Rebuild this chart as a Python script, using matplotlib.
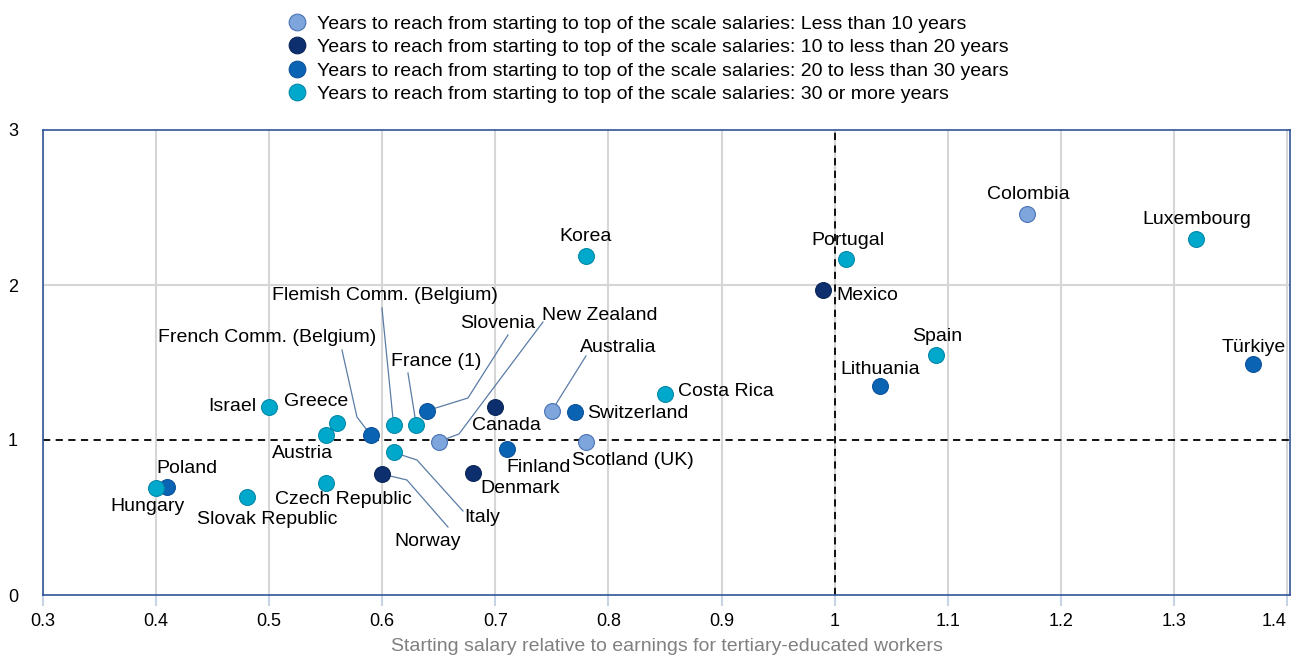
import matplotlib
matplotlib.use("Agg")
import matplotlib.pyplot as plt
from matplotlib.lines import Line2D

plt.rcParams['font.family'] = ['Liberation Sans', 'DejaVu Sans']

# ---- data ----
countries = ["Colombia", "Luxembourg", "Portugal", "Mexico", "Korea", "Spain",
             "Lithuania", "Türkiye", "Costa Rica", "Switzerland", "Australia",
             "Scotland (UK)", "Canada", "Finland", "Denmark", "New Zealand",
             "Slovenia", "France (1)", "Flemish Comm. (Belgium)",
             "French Comm. (Belgium)", "Italy", "Norway", "Greece", "Austria",
             "Israel", "Czech Republic", "Slovak Republic", "Poland", "Hungary"]
start_rel = [1.17, 1.32, 1.01, 0.99, 0.78, 1.09,
             1.04, 1.37, 0.85, 0.77, 0.75,
             0.78, 0.70, 0.71, 0.68, 0.65,
             0.64, 0.63, 0.61,
             0.59, 0.61, 0.60, 0.56, 0.55,
             0.50, 0.55, 0.48, 0.41, 0.40]
top_ratio = [2.46, 2.30, 2.17, 1.97, 2.19, 1.55,
             1.35, 1.49, 1.30, 1.18, 1.19,
             0.99, 1.21, 0.94, 0.79, 0.99,
             1.19, 1.10, 1.10,
             1.03, 0.92, 0.78, 1.11, 1.03,
             1.21, 0.72, 0.63, 0.70, 0.69]
# group: 0 <10, 1 10-20, 2 20-30, 3 30+
group = [0, 3, 3, 1, 3, 3,
         2, 2, 3, 2, 0,
         0, 1, 2, 1, 0,
         2, 3, 3,
         2, 3, 1, 3, 3,
         3, 3, 3, 2, 3]
group_labels = [
    "Years to reach from starting to top of the scale salaries: Less than 10 years",
    "Years to reach from starting to top of the scale salaries: 10 to less than 20 years",
    "Years to reach from starting to top of the scale salaries: 20 to less than 30 years",
    "Years to reach from starting to top of the scale salaries: 30 or more years",
]
x_ticks = [0.3, 0.4, 0.5, 0.6, 0.7, 0.8, 0.9, 1.0, 1.1, 1.2, 1.3, 1.4]
x_ticklabels = ["0.3", "0.4", "0.5", "0.6", "0.7", "0.8", "0.9", "1", "1.1", "1.2", "1.3", "1.4"]
y_ticks = [0, 1, 2, 3]

colors = ["#7ea6dc", "#0d2f6e", "#0b63b4", "#00a8cc"]
edges = ["#4a72b5", "#0a2558", "#0a529a", "#0088a8"]

W, H = 1299, 658
fig = plt.figure(figsize=(W / 100, H / 100), dpi=100)
L, R, T, B = 43, 1290, 130, 595
ax = fig.add_axes([L / W, 1 - B / H, (R - L) / W, (B - T) / H])
ax.set_xlim(0.3, 1.4027)
ax.set_ylim(0, 3)

# grid
for xv in x_ticks:
    ax.axvline(xv, color="#d6d6d6", lw=1.5, zorder=0)
ax.axhline(2, color="#d6d6d6", lw=1.5, zorder=0)
ax.axhline(1, color="black", lw=1.3, ls=(0, (4, 3)), zorder=1)
ax.axvline(1, color="black", lw=1.3, ls=(0, (4, 3)), zorder=1)

for s in ax.spines.values():
    s.set_color("#2f5597")
    s.set_linewidth(1.2)

ax.set_xticks(x_ticks)
ax.set_xticklabels(x_ticklabels)
ax.set_yticks(y_ticks)
ax.tick_params(axis="x", length=8, color="#c9d3e6", width=1.5, labelsize=13, pad=5)
ax.tick_params(axis="y", length=0, labelsize=13, pad=18)
ax.get_xticklabels()[-1].set_horizontalalignment("right")
ax.set_xlabel("Starting salary relative to earnings for tertiary-educated workers",
              color="#808080", fontsize=14, labelpad=6)

for g in range(4):
    xs = [x for x, gg in zip(start_rel, group) if gg == g]
    ys = [y for y, gg in zip(top_ratio, group) if gg == g]
    ax.scatter(xs, ys, s=130, color=colors[g], edgecolor=edges[g], linewidth=0.8, zorder=4)

# label offsets in pixels (dx, dy relative to point, dy positive = up), ha
label_pos = {
    "Colombia": (1, 19, "center"),
    "Luxembourg": (0, 19, "center"),
    "Portugal": (2, 18, "center"),
    "Mexico": (13, -6, "left"),
    "Korea": (0, 19, "center"),
    "Spain": (1, 18, "center"),
    "Lithuania": (0, 16, "center"),
    "Türkiye": (1, 17, "center"),
    "Costa Rica": (13, 2, "left"),
    "Switzerland": (13, -1, "left"),
    "Australia": (66, 63, "center"),
    "Scotland (UK)": (47, -19, "center"),
    "Canada": (11, -18, "center"),
    "Finland": (32, -18, "center"),
    "Denmark": (47, -16, "center"),
    "New Zealand": (161, 126, "center"),
    "Slovenia": (70, 87, "center"),
    "France (1)": (20, 63, "center"),
    "Flemish Comm. (Belgium)": (-9, 129, "center"),
    "French Comm. (Belgium)": (-104, 98, "center"),
    "Italy": (89, -65, "center"),
    "Norway": (45, -67, "center"),
    "Greece": (-21, 21, "center"),
    "Austria": (-23, -18, "center"),
    "Israel": (-13, 1, "right"),
    "Czech Republic": (18, -16, "center"),
    "Slovak Republic": (21, -22, "center"),
    "Poland": (20, 18, "center"),
    "Hungary": (-9, -18, "center"),
}

def to_data(px, py):
    return (0.3 + (px - L) / 1131.0, (B - py) / 155.0)

for name, x, y in zip(countries, start_rel, top_ratio):
    dx, dy, ha = label_pos[name]
    ax.annotate(name, (x, y), xytext=(dx * 0.72, dy * 0.72), textcoords="offset points",
                ha=ha, va="center", fontsize=14, color="black", zorder=5)

# leader lines (pixel waypoints, from label to point)
leaders = {
    "Australia": [(586, 356)],
    "New Zealand": [(543, 322), (459, 434)],
    "Slovenia": [(508, 335), (468, 398)],
    "France (1)": [(408, 373)],
    "Flemish Comm. (Belgium)": [(382, 308)],
    "French Comm. (Belgium)": [(342, 350), (357, 417)],
    "Italy": [(463, 511), (417, 460)],
    "Norway": [(448, 527), (407, 480)],
}
for name, pts in leaders.items():
    i = countries.index(name)
    xs = [to_data(*p)[0] for p in pts] + [start_rel[i]]
    ys = [to_data(*p)[1] for p in pts] + [top_ratio[i]]
    ax.plot(xs, ys, color="#5a7ca6", lw=0.9, zorder=3)

handles = [Line2D([], [], marker="o", ls="none", markersize=12,
                  markerfacecolor=colors[g], markeredgecolor=edges[g], markeredgewidth=0.8)
           for g in range(4)]
fig.legend(handles, group_labels, loc="upper left", bbox_to_anchor=(287 / W, 1 - 15 / H),
           frameon=False, fontsize=14, labelspacing=0.3, handletextpad=0.55,
           borderaxespad=0, borderpad=0, handlelength=1.0)

fig.savefig("out.png", dpi=100)
